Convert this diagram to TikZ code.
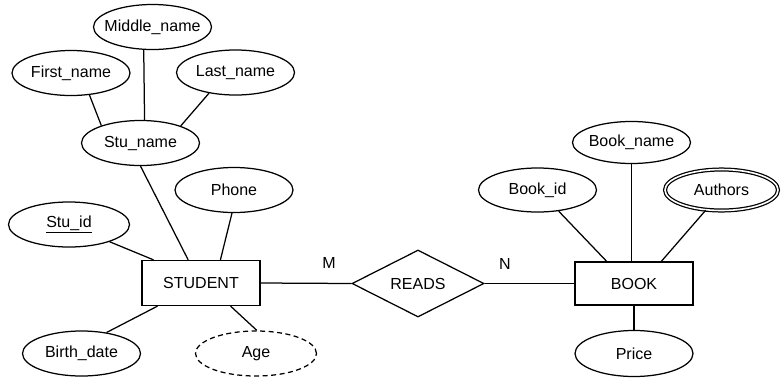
\documentclass[tikz,border=0pt]{standalone}
\usepackage{fontspec}
\setmainfont{Liberation Sans}
\usetikzlibrary{shapes.geometric}
\newcommand\lbl[1]{\makebox[0pt]{#1}}
\tikzset{
  every node/.style={font=\fontsize{16}{19}\selectfont, inner sep=0pt},
  attr/.style={draw, ellipse, line width=1.25pt, minimum width=118pt, minimum height=45pt},
  multi/.style={attr, double, double distance=1.6pt, minimum width=113pt, minimum height=41pt},
  derived/.style={attr, dashed, dash pattern=on 5pt off 3.5pt},
  entity/.style={draw, rectangle, line width=1.25pt, minimum width=118pt, minimum height=45pt},
  rel/.style={draw, diamond, line width=1.25pt, minimum width=132pt, minimum height=67pt},
  conn/.style={line width=1.25pt},
  card/.style={font=\fontsize{16}{19}\selectfont}
}
\begin{document}
\begin{tikzpicture}[x=1pt,y=-1pt]
\useasboundingbox (0,0) rectangle (781,378);
% student side
\node[attr] (mn) at (152.5,27) {\lbl{Middle\_name}};
\node[attr] (fn) at (71,73) {\lbl{First\_name}};
\node[attr] (ln) at (235.5,72.5) {\lbl{Last\_name}};
\node[attr] (sn) at (140.5,143) {\lbl{Stu\_name}};
\node[attr] (ph) at (234,190) {\lbl{Phone}};
\node[attr, minimum width=121pt] (sid) at (69,224.5) {\lbl{\underline{Stu\_id}}};
\node[entity] (st) at (201,283) {\lbl{STUDENT}};
\node[attr] (bd) at (81.5,353.5) {\lbl{Birth\_date}};
\node[derived, minimum width=121pt] (age) at (256,353.5) {\lbl{Age}};
% relationship
\node[rel] (rd) at (418,283.5) {\lbl{READS}};
\node[card] (m) at (329,263) {M};
\node[card] (n) at (505,264) {N};
% book side
\node[entity, minimum height=43pt] (bk) at (634,283.5) {\lbl{BOOK}};
\node[attr, minimum height=42pt] (bn) at (631.5,142.5) {\lbl{Book\_name}};
\node[attr, minimum height=44pt] (bid) at (537.5,190) {\lbl{Book\_id}};
\node[multi] (au) at (721.5,190) {\lbl{Authors}};
\node[attr, minimum height=46pt] (pr) at (634,353.5) {\lbl{Price}};
% connectors
\draw[conn] (fn.-50) -- (sn.156);
\draw[conn] (mn.-111) -- (sn.80);
\draw[conn] (ln.-142) -- (sn.23);
\draw[conn] (sn.south) -- (st.119.5);
\draw[conn] (ph.-95) -- (st.50.4);
\draw[conn] (sid.-23.7) -- (st.154.4);
\draw[conn] (bd.40) -- (st.-152.4);
\draw[conn] (age.88) -- (st.-38.4);
\draw[conn] (st.east) -- (rd.west);
\draw[conn] (rd.east) -- (bk.west);
\draw[conn] (bid.-45) -- (bk.141.5);
\draw[conn] (bn.south) -- (bn.south |- bk.north);
\draw[conn] (au.-128.8) -- (bk.39.6);
\draw[conn] (bk.south) -- (pr.north);
\end{tikzpicture}
\end{document}
